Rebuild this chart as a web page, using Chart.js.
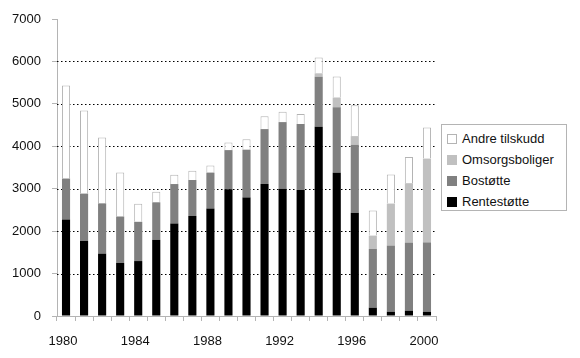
<!DOCTYPE html>
<html>
<head>
<meta charset="utf-8">
<script src="https://cdn.jsdelivr.net/npm/chart.js@4"></script>
<style>
  body { margin: 0; background: #fff; }
  #wrap { position: relative; width: 580px; height: 358px; }
  #legend {
    position: absolute; left: 441px; top: 124px; width: 124px; height: 85px;
    border: 1px solid #b4b4b4; background: #fff;
    font: 13px "Liberation Sans", Arial, sans-serif; color: #111;
  }
  .item { position: absolute; left: 5px; height: 14px; line-height: 14px; white-space: nowrap; }
  .sw { display: inline-block; width: 8px; height: 8px; vertical-align: -1px; margin-right: 5px; border: 1px solid transparent; }
</style>
</head>
<body>
<div id="wrap">
  <canvas id="chart" width="580" height="358"></canvas>
  <div id="legend"></div>
</div>
<script>
// År
const aar = ['1980','1981','1982','1983','1984','1985','1986','1987','1988','1989','1990',
             '1991','1992','1993','1994','1995','1996','1997','1998','1999','2000'];

// Verdier lest av figuren
const rentestotte = [2275, 1770, 1470, 1250, 1295, 1795, 2180, 2355, 2535, 2985, 2790,
                     3110, 3000, 2970, 4460, 3375, 2435, 195, 100, 125, 100];
const bostotte = [965, 1115, 1185, 1095, 925, 885, 930, 850, 845, 925, 1130,
                  1295, 1570, 1555, 1180, 1545, 1600, 1385, 1560, 1605, 1635];
const omsorgsboliger = [0, 0, 0, 0, 0, 0, 0, 0, 0, 0, 0,
                        0, 0, 0, 80, 230, 205, 315, 990, 1400, 1975];
const andreTilskudd = [2190, 1960, 1555, 1035, 425, 250, 220, 220, 165, 180, 245,
                       300, 245, 235, 375, 495, 725, 590, 685, 620, 730];

const yTicks = [0, 1000, 2000, 3000, 4000, 5000, 6000, 7000];

const serier = [
  { label: 'Rentestøtte', data: rentestotte, bg: '#000000', border: '#000000', bw: 0 },
  { label: 'Bostøtte', data: bostotte, bg: '#808080', border: '#808080', bw: 0 },
  { label: 'Omsorgsboliger', data: omsorgsboliger, bg: '#c0c0c0', border: '#c0c0c0', bw: 0 },
  { label: 'Andre tilskudd', data: andreTilskudd, bg: '#ffffff', border: '#b4b4b4', bw: 1 }
];

const fontTekst = { family: '"Liberation Sans", Arial, sans-serif', size: 13 };

// Prikkete hjelpelinjer tegnes selv, siden Chart.js-linjene blir for svake
const prikkLinjer = {
  id: 'prikkLinjer',
  beforeDatasetsDraw(chart) {
    const { ctx, chartArea, scales: { y } } = chart;
    ctx.save();
    ctx.strokeStyle = '#000';
    ctx.lineWidth = 1;
    ctx.setLineDash([1.5, 2.5]);
    yTicks.filter(v => v > 0 && v < 7000).forEach(v => {
      const py = Math.round(y.getPixelForValue(v)) + 0.5;
      ctx.beginPath();
      ctx.moveTo(chartArea.left, py);
      ctx.lineTo(chartArea.right, py);
      ctx.stroke();
    });
    ctx.restore();
  }
};

new Chart('chart', {
  type: 'bar',
  data: {
    labels: aar,
    datasets: serier.map(s => ({
      label: s.label,
      data: s.data,
      backgroundColor: s.bg,
      borderColor: s.border,
      borderWidth: s.bw,
      barPercentage: 0.45,
      categoryPercentage: 1
    }))
  },
  options: {
    responsive: false,
    animation: false,
    layout: { padding: { left: 0, right: 144, top: 19, bottom: 0 } },
    plugins: { legend: { display: false }, tooltip: { enabled: false } },
    scales: {
      x: {
        stacked: true,
        afterFit: (s) => { s.height = 42; },
        grid: { offset: true, drawOnChartArea: false, tickLength: 5, color: '#b4b4b4' },
        border: { color: '#b4b4b4' },
        ticks: {
          autoSkip: false, maxRotation: 0, padding: 13, labelOffset: -3,
          color: '#111', font: fontTekst,
          callback: (v, i) => (i % 4 === 0 ? aar[i] : '')
        }
      },
      y: {
        stacked: true,
        min: 0, max: 7000,
        afterFit: (s) => { s.width = 57; },
        afterBuildTicks: (s) => { s.ticks = yTicks.map(v => ({ value: v })); },
        grid: { drawOnChartArea: false, tickLength: 5, color: '#b4b4b4' },
        border: { color: '#b4b4b4' },
        ticks: { padding: 11, color: '#111', font: fontTekst, callback: (v) => String(v) }
      }
    }
  },
  plugins: [prikkLinjer]
});

// Forklaring (omvendt rekkefølge)
const legend = document.getElementById('legend');
serier.slice().reverse().forEach((s, i) => {
  const el = document.createElement('div');
  el.className = 'item';
  el.style.top = (7 + i * 21) + 'px';
  el.innerHTML = `<span class="sw" style="background:${s.bg};border-color:${s.bw ? s.border : s.bg}"></span>${s.label}`;
  legend.appendChild(el);
});
</script>
</body>
</html>
